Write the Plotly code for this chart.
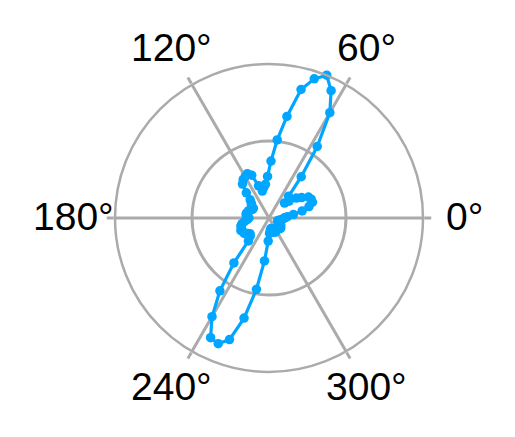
import math
import plotly.graph_objects as go

theta_deg = [0, 4, 8, 12, 16, 20, 24, 28, 32, 36, 40, 44, 48, 52, 56, 60, 64, 68, 72, 76,
             80, 84, 88, 92, 96, 100, 104, 108, 112, 116, 120, 124, 128, 132, 136, 140,
             144, 148, 152, 156, 160, 164, 168, 172, 176, 180, 184, 188, 192, 196, 200,
             204, 208, 212, 216, 220, 224, 228, 232, 236, 240, 244, 248, 252, 256, 260,
             264, 268, 272, 276, 280, 284, 288, 292, 296, 300, 304, 308, 312, 316, 320,
             324, 328, 332, 336, 340, 344, 348, 352, 356, 360]
r_vals = [0.10, 0.12, 0.16, 0.22, 0.27, 0.30, 0.30, 0.29, 0.25, 0.22, 0.17, 0.14, 0.19,
          0.34, 0.56, 0.79, 0.92, 1.00, 0.95, 0.86, 0.67, 0.51, 0.37, 0.27, 0.22, 0.20,
          0.18, 0.22, 0.30, 0.32, 0.31, 0.30, 0.28, 0.22, 0.17, 0.15, 0.14, 0.12, 0.12,
          0.13, 0.14, 0.14, 0.15, 0.15, 0.14, 0.13, 0.14, 0.16, 0.18, 0.19, 0.19, 0.20,
          0.19, 0.19, 0.17, 0.16, 0.17, 0.20, 0.37, 0.57, 0.74, 0.865, 0.88, 0.83, 0.67,
          0.47, 0.28, 0.15, 0.10, 0.08, 0.07, 0.08, 0.09, 0.10, 0.10, 0.09, 0.08, 0.08,
          0.09, 0.10, 0.10, 0.09, 0.09, 0.08, 0.07, 0.06, 0.06, 0.07, 0.08, 0.09, 0.10]

angular_ticks = [0, 60, 120, 180, 240, 300]
angular_labels = ["0°", "60°", "120°", "180°", "240°", "300°"]
radial_ticks = [0.5, 1.0]

blue = "#00A6FF"
grey = "#ABABAB"

# layout geometry (pixels)
W, H = 515, 437
ml, mr, mt, mb = 115, 92, 64, 65
label_dist = 1.27  # label centre distance as fraction of outer radius

fig = go.Figure()
fig.add_trace(go.Scatterpolar(
    r=r_vals, theta=theta_deg, mode="lines+markers",
    line=dict(color=blue, width=3.2),
    marker=dict(color=blue, size=9.5),
    showlegend=False,
))

annotations = []
for a, txt in zip(angular_ticks, angular_labels):
    rad = math.radians(a)
    annotations.append(dict(
        x=0.5 + 0.5 * label_dist * math.cos(rad),
        y=0.5 + 0.5 * label_dist * math.sin(rad) + 0.004,
        xref="paper", yref="paper", text=txt, showarrow=False,
        xanchor="center", yanchor="middle",
        font=dict(size=39, color="black", family="Liberation Sans, Arial, sans-serif"),
    ))

fig.update_layout(
    width=W, height=H,
    margin=dict(l=ml, r=mr, t=mt, b=mb),
    paper_bgcolor="white",
    font=dict(family="Liberation Sans, Arial, sans-serif", size=39, color="black"),
    annotations=annotations,
    polar=dict(
        bgcolor="white",
        domain=dict(x=[0, 1], y=[0, 1]),
        angularaxis=dict(
            rotation=0, direction="counterclockwise",
            tickmode="array", tickvals=angular_ticks, ticktext=angular_labels,
            showticklabels=False,
            showgrid=True, gridcolor=grey, gridwidth=2.5,
            showline=True, linecolor=grey, linewidth=2.5,
            ticks="outside", ticklen=7, tickwidth=2.5, tickcolor=grey,
        ),
        radialaxis=dict(
            range=[0, 1], tickmode="array", tickvals=radial_ticks,
            showticklabels=False, ticks="", showline=False,
            showgrid=True, gridcolor=grey, gridwidth=2.5,
        ),
    ),
)

fig.write_html("out.html")
